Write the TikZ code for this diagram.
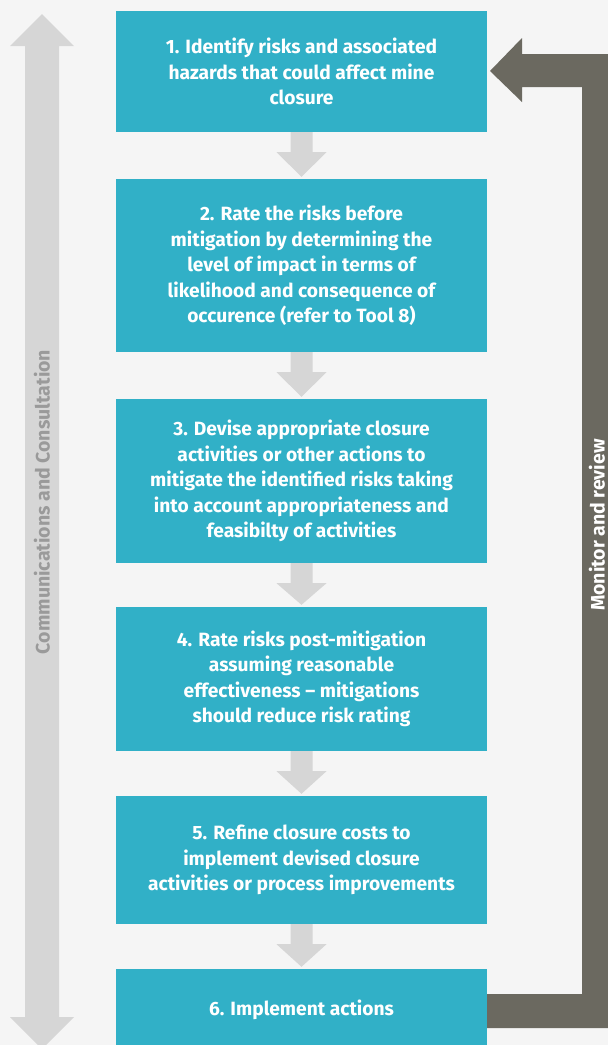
\documentclass[tikz,border=0pt]{standalone}
\usepackage{fontspec}
\setmainfont{Fira Sans}
\usetikzlibrary{calc}
\definecolor{bg}{HTML}{F5F5F5}
\definecolor{teal}{HTML}{31B0C7}
\definecolor{darkband}{HTML}{6B6960}
\definecolor{lightarrow}{HTML}{D6D6D6}
\definecolor{labelgray}{HTML}{9A9A9A}
\tikzset{
  stepbox/.style={fill=teal, inner sep=0pt, minimum width=371pt, align=center,
    text=white, font=\fontsize{19.2}{25.5}\selectfont\bfseries},
  sidelabel/.style={font=\fontsize{19.5}{21}\selectfont\bfseries, rotate=90, inner sep=0pt},
}
\newcommand{\flowarrow}[2]{%
  \fill[lightarrow] ($(#1.south)+(-11,0)$) -- ($(#1.south)+(11,0)$) --
    ($(#1.south)+(11,20)$) -- ($(#1.south)+(25,20)$) -- ($(#2.north)+(0,-2)$) --
    ($(#1.south)+(-25,20)$) -- ($(#1.south)+(-11,20)$) -- cycle;}
\begin{document}
\begin{tikzpicture}[x=1pt,y=-1pt]
\useasboundingbox (0,0) rectangle (608,1045);
\fill[bg] (0,0) rectangle (608,1045);
% left double arrow
\coordinate (ltop) at (42,14);
\coordinate (lbot) at (42,1049);
\fill[lightarrow] (ltop) -- ($(ltop)+(32,32)$) -- ($(ltop)+(17,32)$) -- ($(lbot)+(17,-32)$) --
  ($(lbot)+(32,-32)$) -- (lbot) -- ($(lbot)+(-32,-32)$) -- ($(lbot)+(-17,-32)$) --
  ($(ltop)+(-17,32)$) -- ($(ltop)+(-32,32)$) -- cycle;
\node[sidelabel, text=labelgray] (comm) at (42,502) {Communications and Consultation};
% boxes
\node[stepbox, minimum height=121pt] (b1) at (301.5,71.5) {1. Identify risks and associated\\hazards that could affect mine\\closure};
\node[stepbox, minimum height=173pt] (b2) at (301.5,265.5) {2. Rate the risks before\\mitigation by determining the\\level of impact in terms of\\likelihood and consequence of\\occurence (refer to Tool 8)};
\node[stepbox, minimum height=164pt] (b3) at (301.5,481) {3. Devise appropriate closure\\activities or other actions to\\mitigate the identified risks taking\\into account appropriateness and\\feasibilty of activities};
\node[stepbox, minimum height=144pt] (b4) at (301.5,679) {4. Rate risks post-mitigation\\assuming reasonable\\effectiveness – mitigations\\should reduce risk rating};
\node[stepbox, minimum height=128pt] (b5) at (301.5,860) {5. Refine closure costs to\\implement devised closure\\activities or process improvements};
% right feedback band (drawn before box 6)
\coordinate (fbtip) at (490,71);
\fill[darkband] (487,994) -- (582,994) -- (582,87) -- (522,87) -- (522,102) -- (fbtip) --
  (522,38) -- (522,54) -- (616,54) -- (616,1028) -- (487,1028) -- cycle;
\node[stepbox, minimum height=82pt] (b6) at (301.5,1010) {6. Implement actions};
\node[sidelabel, text=white] (mon) at (597,525) {Monitor and review};
% flow arrows
\flowarrow{b1}{b2}
\flowarrow{b2}{b3}
\flowarrow{b3}{b4}
\flowarrow{b4}{b5}
\flowarrow{b5}{b6}
\end{tikzpicture}
\end{document}
